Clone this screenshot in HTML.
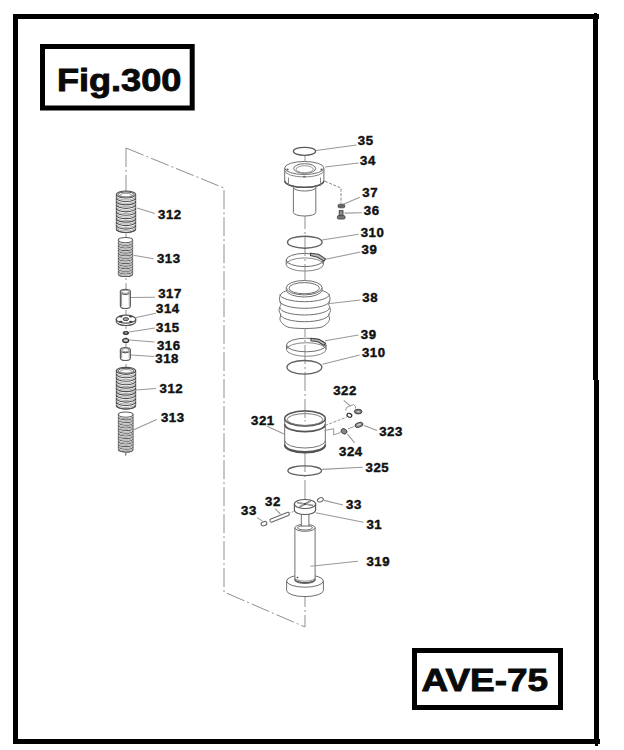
<!DOCTYPE html>
<html><head><meta charset="utf-8"><style>
html,body{margin:0;padding:0;background:#fff;}
body{width:624px;height:750px;position:relative;overflow:hidden;}
svg{position:absolute;left:0;top:0;}
.lbl text{font-family:"Liberation Sans",sans-serif;font-weight:bold;font-size:13.2px;fill:#111;stroke:#111;stroke-width:0.45px;}
.big{font-family:"Liberation Sans",sans-serif;font-weight:bold;fill:#0a0a0a;font-size:32px;stroke:#0a0a0a;stroke-width:0.9px;}
</style></head><body>
<svg width="624" height="750" viewBox="0 0 624 750">
<g fill="#000">
<rect x="13" y="14" width="586" height="5"/>
<rect x="13" y="14" width="5" height="730"/>
<rect x="13" y="739" width="587" height="5"/>
<rect x="593" y="14" width="5" height="366"/>
<rect x="594" y="380" width="5" height="364"/>
<rect x="595" y="744" width="3" height="2"/>
<rect x="594" y="13" width="3" height="1"/>
</g>
<rect x="42.5" y="46.5" width="149.7" height="61.5" fill="none" stroke="#000" stroke-width="5"/>
<rect x="414.5" y="650.5" width="146" height="57" fill="none" stroke="#000" stroke-width="5"/>
<text class="big" x="56.9" y="90.7" textLength="124.5" lengthAdjust="spacingAndGlyphs">Fig.300</text>
<text class="big" x="421.5" y="691" textLength="126.5" lengthAdjust="spacingAndGlyphs">AVE-75</text>
<path d="M126,148 L224,188 L224,592 L305,627" fill="none" stroke="#8f8f8f" stroke-width="1" stroke-dasharray="19 3 2 3"/>
<line x1="126" y1="148" x2="126" y2="455" stroke="#8f8f8f" stroke-width="1" stroke-dasharray="19 3 2 3"/>
<line x1="305" y1="156" x2="305" y2="627" stroke="#8f8f8f" stroke-width="1" stroke-dasharray="19 3 2 3"/>
<path d="M116.4,194.5 L116.4,229.0 A9.6,3.5 0 0 0 135.6,229.0 L135.6,194.5 Z" fill="#fff" stroke="#505050" stroke-width="1.15" />
<ellipse cx="126" cy="194.5" rx="9.6" ry="3.5" fill="#fff" stroke="#505050" stroke-width="1.15"/>
<ellipse cx="126" cy="194.5" rx="7.871999999999999" ry="2.52" fill="#fff" stroke="#505050" stroke-width="1"/>
<ellipse cx="126" cy="195.1" rx="5.76" ry="1.75" fill="none" stroke="#999" stroke-width="1"/>
<path d="M116.4,197.95 A9.6,3.5 0 0 0 135.6,197.95" fill="none" stroke="#505050" stroke-width="1.15" />
<path d="M116.4,196.39749999999998 A9.6,3.5 0 0 0 135.6,196.39749999999998" fill="none" stroke="#a8a8a8" stroke-width="1" />
<path d="M116.4,201.4 A9.6,3.5 0 0 0 135.6,201.4" fill="none" stroke="#505050" stroke-width="1.15" />
<path d="M116.4,199.8475 A9.6,3.5 0 0 0 135.6,199.8475" fill="none" stroke="#a8a8a8" stroke-width="1" />
<path d="M116.4,204.85 A9.6,3.5 0 0 0 135.6,204.85" fill="none" stroke="#505050" stroke-width="1.15" />
<path d="M116.4,203.29749999999999 A9.6,3.5 0 0 0 135.6,203.29749999999999" fill="none" stroke="#a8a8a8" stroke-width="1" />
<path d="M116.4,208.3 A9.6,3.5 0 0 0 135.6,208.3" fill="none" stroke="#505050" stroke-width="1.15" />
<path d="M116.4,206.7475 A9.6,3.5 0 0 0 135.6,206.7475" fill="none" stroke="#a8a8a8" stroke-width="1" />
<path d="M116.4,211.75 A9.6,3.5 0 0 0 135.6,211.75" fill="none" stroke="#505050" stroke-width="1.15" />
<path d="M116.4,210.1975 A9.6,3.5 0 0 0 135.6,210.1975" fill="none" stroke="#a8a8a8" stroke-width="1" />
<path d="M116.4,215.2 A9.6,3.5 0 0 0 135.6,215.2" fill="none" stroke="#505050" stroke-width="1.15" />
<path d="M116.4,213.64749999999998 A9.6,3.5 0 0 0 135.6,213.64749999999998" fill="none" stroke="#a8a8a8" stroke-width="1" />
<path d="M116.4,218.65 A9.6,3.5 0 0 0 135.6,218.65" fill="none" stroke="#505050" stroke-width="1.15" />
<path d="M116.4,217.0975 A9.6,3.5 0 0 0 135.6,217.0975" fill="none" stroke="#a8a8a8" stroke-width="1" />
<path d="M116.4,222.1 A9.6,3.5 0 0 0 135.6,222.1" fill="none" stroke="#505050" stroke-width="1.15" />
<path d="M116.4,220.54749999999999 A9.6,3.5 0 0 0 135.6,220.54749999999999" fill="none" stroke="#a8a8a8" stroke-width="1" />
<path d="M116.4,225.55 A9.6,3.5 0 0 0 135.6,225.55" fill="none" stroke="#505050" stroke-width="1.15" />
<path d="M116.4,223.9975 A9.6,3.5 0 0 0 135.6,223.9975" fill="none" stroke="#a8a8a8" stroke-width="1" />
<path d="M116.4,229.0 A9.6,3.5 0 0 0 135.6,229.0" fill="none" stroke="#505050" stroke-width="1.15" />
<path d="M116.4,227.4475 A9.6,3.5 0 0 0 135.6,227.4475" fill="none" stroke="#a8a8a8" stroke-width="1" />
<path d="M118.4,240.1 L118.4,273.9 A7.1,2.6 0 0 0 132.6,273.9 L132.6,240.1 Z" fill="#fff" stroke="#606060" stroke-width="1.05" />
<ellipse cx="125.5" cy="240.1" rx="7.1" ry="2.6" fill="#fff" stroke="#606060" stroke-width="1.05"/>
<path d="M118.4,242.7 A7.1,2.6 0 0 0 132.6,242.7" fill="none" stroke="#606060" stroke-width="1.05" />
<path d="M118.4,241.53 A7.1,2.6 0 0 0 132.6,241.53" fill="none" stroke="#a8a8a8" stroke-width="1" />
<path d="M118.4,245.29999999999998 A7.1,2.6 0 0 0 132.6,245.29999999999998" fill="none" stroke="#606060" stroke-width="1.05" />
<path d="M118.4,244.13 A7.1,2.6 0 0 0 132.6,244.13" fill="none" stroke="#a8a8a8" stroke-width="1" />
<path d="M118.4,247.89999999999998 A7.1,2.6 0 0 0 132.6,247.89999999999998" fill="none" stroke="#606060" stroke-width="1.05" />
<path d="M118.4,246.73 A7.1,2.6 0 0 0 132.6,246.73" fill="none" stroke="#a8a8a8" stroke-width="1" />
<path d="M118.4,250.5 A7.1,2.6 0 0 0 132.6,250.5" fill="none" stroke="#606060" stroke-width="1.05" />
<path d="M118.4,249.33 A7.1,2.6 0 0 0 132.6,249.33" fill="none" stroke="#a8a8a8" stroke-width="1" />
<path d="M118.4,253.1 A7.1,2.6 0 0 0 132.6,253.1" fill="none" stroke="#606060" stroke-width="1.05" />
<path d="M118.4,251.93 A7.1,2.6 0 0 0 132.6,251.93" fill="none" stroke="#a8a8a8" stroke-width="1" />
<path d="M118.4,255.7 A7.1,2.6 0 0 0 132.6,255.7" fill="none" stroke="#606060" stroke-width="1.05" />
<path d="M118.4,254.53 A7.1,2.6 0 0 0 132.6,254.53" fill="none" stroke="#a8a8a8" stroke-width="1" />
<path d="M118.4,258.3 A7.1,2.6 0 0 0 132.6,258.3" fill="none" stroke="#606060" stroke-width="1.05" />
<path d="M118.4,257.13 A7.1,2.6 0 0 0 132.6,257.13" fill="none" stroke="#a8a8a8" stroke-width="1" />
<path d="M118.4,260.9 A7.1,2.6 0 0 0 132.6,260.9" fill="none" stroke="#606060" stroke-width="1.05" />
<path d="M118.4,259.72999999999996 A7.1,2.6 0 0 0 132.6,259.72999999999996" fill="none" stroke="#a8a8a8" stroke-width="1" />
<path d="M118.4,263.5 A7.1,2.6 0 0 0 132.6,263.5" fill="none" stroke="#606060" stroke-width="1.05" />
<path d="M118.4,262.33 A7.1,2.6 0 0 0 132.6,262.33" fill="none" stroke="#a8a8a8" stroke-width="1" />
<path d="M118.4,266.09999999999997 A7.1,2.6 0 0 0 132.6,266.09999999999997" fill="none" stroke="#606060" stroke-width="1.05" />
<path d="M118.4,264.92999999999995 A7.1,2.6 0 0 0 132.6,264.92999999999995" fill="none" stroke="#a8a8a8" stroke-width="1" />
<path d="M118.4,268.7 A7.1,2.6 0 0 0 132.6,268.7" fill="none" stroke="#606060" stroke-width="1.05" />
<path d="M118.4,267.53 A7.1,2.6 0 0 0 132.6,267.53" fill="none" stroke="#a8a8a8" stroke-width="1" />
<path d="M118.4,271.29999999999995 A7.1,2.6 0 0 0 132.6,271.29999999999995" fill="none" stroke="#606060" stroke-width="1.05" />
<path d="M118.4,270.12999999999994 A7.1,2.6 0 0 0 132.6,270.12999999999994" fill="none" stroke="#a8a8a8" stroke-width="1" />
<path d="M118.4,273.9 A7.1,2.6 0 0 0 132.6,273.9" fill="none" stroke="#606060" stroke-width="1.05" />
<path d="M118.4,272.72999999999996 A7.1,2.6 0 0 0 132.6,272.72999999999996" fill="none" stroke="#a8a8a8" stroke-width="1" />
<path d="M120.4,291.8 L120.4,306.0 A5,2.5 0 0 0 130.4,306.0 L130.4,291.8 Z" fill="#fff" stroke="#606060" stroke-width="1.2" />
<ellipse cx="125.4" cy="291.8" rx="5" ry="2.5" fill="#fff" stroke="#606060" stroke-width="1.2"/>
<line x1="121.6" y1="292.5" x2="121.6" y2="306" stroke="#999" stroke-width="1" />
<line x1="129.2" y1="292.5" x2="129.2" y2="306" stroke="#aaa" stroke-width="1" />
<ellipse cx="125.4" cy="291.8" rx="3.6" ry="1.5" fill="none" stroke="#999" stroke-width="1"/>
<path d="M116.3,319.2 L116.3,321.5 A9.7,4.0 0 0 0 135.7,321.5 L135.7,319.2 Z" fill="#fff" stroke="#555" stroke-width="1.2" />
<ellipse cx="126" cy="319.2" rx="9.7" ry="4.0" fill="#fff" stroke="#555" stroke-width="1.2"/>
<ellipse cx="120.7" cy="316.6" rx="2.0" ry="0.95" fill="#444" stroke="none" stroke-width="1"/>
<ellipse cx="130.9" cy="316.6" rx="2.0" ry="0.95" fill="#444" stroke="none" stroke-width="1"/>
<ellipse cx="120.7" cy="321.6" rx="2.0" ry="0.95" fill="#444" stroke="none" stroke-width="1"/>
<ellipse cx="130.9" cy="321.6" rx="2.0" ry="0.95" fill="#444" stroke="none" stroke-width="1"/>
<ellipse cx="125.8" cy="319.1" rx="2.8" ry="1.5" fill="#aaa" stroke="#444" stroke-width="1"/>
<ellipse cx="125.9" cy="333" rx="2.9" ry="1.7" fill="#444" stroke="#333" stroke-width="0.8"/>
<ellipse cx="125.9" cy="332.8" rx="1.4" ry="0.6" fill="#bbb" stroke="none" stroke-width="1"/>
<ellipse cx="125.7" cy="340.5" rx="3.0" ry="1.9" fill="#ccc" stroke="#333" stroke-width="1.3"/>
<path d="M120.4,350.1 L120.4,358.0 A5,2.5 0 0 0 130.4,358.0 L130.4,350.1 Z" fill="#fff" stroke="#606060" stroke-width="1.2" />
<ellipse cx="125.4" cy="350.1" rx="5" ry="2.5" fill="#fff" stroke="#606060" stroke-width="1.2"/>
<line x1="121.6" y1="350.5" x2="121.6" y2="358" stroke="#999" stroke-width="1" />
<line x1="129.2" y1="350.5" x2="129.2" y2="358" stroke="#aaa" stroke-width="1" />
<ellipse cx="125.4" cy="350.1" rx="3.6" ry="1.5" fill="none" stroke="#999" stroke-width="1"/>
<path d="M116.4,370.8 L116.4,405.5 A9.6,3.5 0 0 0 135.6,405.5 L135.6,370.8 Z" fill="#fff" stroke="#505050" stroke-width="1.15" />
<ellipse cx="126" cy="370.8" rx="9.6" ry="3.5" fill="#fff" stroke="#505050" stroke-width="1.15"/>
<ellipse cx="126" cy="370.8" rx="7.871999999999999" ry="2.52" fill="#fff" stroke="#505050" stroke-width="1"/>
<ellipse cx="126" cy="371.40000000000003" rx="5.76" ry="1.75" fill="none" stroke="#999" stroke-width="1"/>
<path d="M116.4,374.27 A9.6,3.5 0 0 0 135.6,374.27" fill="none" stroke="#505050" stroke-width="1.15" />
<path d="M116.4,372.70849999999996 A9.6,3.5 0 0 0 135.6,372.70849999999996" fill="none" stroke="#a8a8a8" stroke-width="1" />
<path d="M116.4,377.74 A9.6,3.5 0 0 0 135.6,377.74" fill="none" stroke="#505050" stroke-width="1.15" />
<path d="M116.4,376.1785 A9.6,3.5 0 0 0 135.6,376.1785" fill="none" stroke="#a8a8a8" stroke-width="1" />
<path d="M116.4,381.21000000000004 A9.6,3.5 0 0 0 135.6,381.21000000000004" fill="none" stroke="#505050" stroke-width="1.15" />
<path d="M116.4,379.6485 A9.6,3.5 0 0 0 135.6,379.6485" fill="none" stroke="#a8a8a8" stroke-width="1" />
<path d="M116.4,384.68 A9.6,3.5 0 0 0 135.6,384.68" fill="none" stroke="#505050" stroke-width="1.15" />
<path d="M116.4,383.1185 A9.6,3.5 0 0 0 135.6,383.1185" fill="none" stroke="#a8a8a8" stroke-width="1" />
<path d="M116.4,388.15 A9.6,3.5 0 0 0 135.6,388.15" fill="none" stroke="#505050" stroke-width="1.15" />
<path d="M116.4,386.58849999999995 A9.6,3.5 0 0 0 135.6,386.58849999999995" fill="none" stroke="#a8a8a8" stroke-width="1" />
<path d="M116.4,391.62 A9.6,3.5 0 0 0 135.6,391.62" fill="none" stroke="#505050" stroke-width="1.15" />
<path d="M116.4,390.0585 A9.6,3.5 0 0 0 135.6,390.0585" fill="none" stroke="#a8a8a8" stroke-width="1" />
<path d="M116.4,395.09000000000003 A9.6,3.5 0 0 0 135.6,395.09000000000003" fill="none" stroke="#505050" stroke-width="1.15" />
<path d="M116.4,393.5285 A9.6,3.5 0 0 0 135.6,393.5285" fill="none" stroke="#a8a8a8" stroke-width="1" />
<path d="M116.4,398.56 A9.6,3.5 0 0 0 135.6,398.56" fill="none" stroke="#505050" stroke-width="1.15" />
<path d="M116.4,396.9985 A9.6,3.5 0 0 0 135.6,396.9985" fill="none" stroke="#a8a8a8" stroke-width="1" />
<path d="M116.4,402.03 A9.6,3.5 0 0 0 135.6,402.03" fill="none" stroke="#505050" stroke-width="1.15" />
<path d="M116.4,400.46849999999995 A9.6,3.5 0 0 0 135.6,400.46849999999995" fill="none" stroke="#a8a8a8" stroke-width="1" />
<path d="M116.4,405.5 A9.6,3.5 0 0 0 135.6,405.5" fill="none" stroke="#505050" stroke-width="1.15" />
<path d="M116.4,403.9385 A9.6,3.5 0 0 0 135.6,403.9385" fill="none" stroke="#a8a8a8" stroke-width="1" />
<path d="M118.4,414.6 L118.4,449.4 A7.3,2.6 0 0 0 133.0,449.4 L133.0,414.6 Z" fill="#fff" stroke="#606060" stroke-width="1.05" />
<ellipse cx="125.7" cy="414.6" rx="7.3" ry="2.6" fill="#fff" stroke="#606060" stroke-width="1.05"/>
<path d="M118.4,417.2769230769231 A7.3,2.6 0 0 0 133.0,417.2769230769231" fill="none" stroke="#606060" stroke-width="1.05" />
<path d="M118.4,416.0723076923077 A7.3,2.6 0 0 0 133.0,416.0723076923077" fill="none" stroke="#a8a8a8" stroke-width="1" />
<path d="M118.4,419.95384615384614 A7.3,2.6 0 0 0 133.0,419.95384615384614" fill="none" stroke="#606060" stroke-width="1.05" />
<path d="M118.4,418.74923076923073 A7.3,2.6 0 0 0 133.0,418.74923076923073" fill="none" stroke="#a8a8a8" stroke-width="1" />
<path d="M118.4,422.63076923076926 A7.3,2.6 0 0 0 133.0,422.63076923076926" fill="none" stroke="#606060" stroke-width="1.05" />
<path d="M118.4,421.42615384615385 A7.3,2.6 0 0 0 133.0,421.42615384615385" fill="none" stroke="#a8a8a8" stroke-width="1" />
<path d="M118.4,425.3076923076923 A7.3,2.6 0 0 0 133.0,425.3076923076923" fill="none" stroke="#606060" stroke-width="1.05" />
<path d="M118.4,424.1030769230769 A7.3,2.6 0 0 0 133.0,424.1030769230769" fill="none" stroke="#a8a8a8" stroke-width="1" />
<path d="M118.4,427.9846153846154 A7.3,2.6 0 0 0 133.0,427.9846153846154" fill="none" stroke="#606060" stroke-width="1.05" />
<path d="M118.4,426.78 A7.3,2.6 0 0 0 133.0,426.78" fill="none" stroke="#a8a8a8" stroke-width="1" />
<path d="M118.4,430.66153846153844 A7.3,2.6 0 0 0 133.0,430.66153846153844" fill="none" stroke="#606060" stroke-width="1.05" />
<path d="M118.4,429.45692307692303 A7.3,2.6 0 0 0 133.0,429.45692307692303" fill="none" stroke="#a8a8a8" stroke-width="1" />
<path d="M118.4,433.33846153846156 A7.3,2.6 0 0 0 133.0,433.33846153846156" fill="none" stroke="#606060" stroke-width="1.05" />
<path d="M118.4,432.13384615384615 A7.3,2.6 0 0 0 133.0,432.13384615384615" fill="none" stroke="#a8a8a8" stroke-width="1" />
<path d="M118.4,436.0153846153846 A7.3,2.6 0 0 0 133.0,436.0153846153846" fill="none" stroke="#606060" stroke-width="1.05" />
<path d="M118.4,434.8107692307692 A7.3,2.6 0 0 0 133.0,434.8107692307692" fill="none" stroke="#a8a8a8" stroke-width="1" />
<path d="M118.4,438.6923076923077 A7.3,2.6 0 0 0 133.0,438.6923076923077" fill="none" stroke="#606060" stroke-width="1.05" />
<path d="M118.4,437.48769230769227 A7.3,2.6 0 0 0 133.0,437.48769230769227" fill="none" stroke="#a8a8a8" stroke-width="1" />
<path d="M118.4,441.36923076923074 A7.3,2.6 0 0 0 133.0,441.36923076923074" fill="none" stroke="#606060" stroke-width="1.05" />
<path d="M118.4,440.16461538461533 A7.3,2.6 0 0 0 133.0,440.16461538461533" fill="none" stroke="#a8a8a8" stroke-width="1" />
<path d="M118.4,444.04615384615386 A7.3,2.6 0 0 0 133.0,444.04615384615386" fill="none" stroke="#606060" stroke-width="1.05" />
<path d="M118.4,442.84153846153845 A7.3,2.6 0 0 0 133.0,442.84153846153845" fill="none" stroke="#a8a8a8" stroke-width="1" />
<path d="M118.4,446.7230769230769 A7.3,2.6 0 0 0 133.0,446.7230769230769" fill="none" stroke="#606060" stroke-width="1.05" />
<path d="M118.4,445.5184615384615 A7.3,2.6 0 0 0 133.0,445.5184615384615" fill="none" stroke="#a8a8a8" stroke-width="1" />
<path d="M118.4,449.4 A7.3,2.6 0 0 0 133.0,449.4" fill="none" stroke="#606060" stroke-width="1.05" />
<path d="M118.4,448.19538461538457 A7.3,2.6 0 0 0 133.0,448.19538461538457" fill="none" stroke="#a8a8a8" stroke-width="1" />
<line x1="125.5" y1="453" x2="125.5" y2="456" stroke="#8f8f8f" stroke-width="1" />
<ellipse cx="304.5" cy="151.3" rx="11.1" ry="4.0" fill="none" stroke="#5a5a5a" stroke-width="1.3"/>
<path d="M293.40000000000003,187.5 L293.40000000000003,212.5 A11.2,3.5 0 0 0 315.8,212.5 L315.8,187.5 Z" fill="#fff" stroke="#707070" stroke-width="1" />
<ellipse cx="304.6" cy="187.5" rx="11.2" ry="3.5" fill="#fff" stroke="#707070" stroke-width="1"/>
<path d="M284.7,168 L284.7,181 A19.6,6.5 0 0 0 323.9,181 L323.9,168" fill="#fff" stroke="#707070" stroke-width="1" />
<path d="M284.7,170.5 A19.6,6.5 0 0 0 323.90000000000003,170.5" fill="none" stroke="#888" stroke-width="1" />
<path d="M284.7,180.8 A19.6,6.5 0 0 0 323.90000000000003,180.8" fill="none" stroke="#555" stroke-width="1.6" />
<ellipse cx="304.3" cy="168" rx="19.6" ry="6.5" fill="#fff" stroke="#707070" stroke-width="1"/>
<ellipse cx="304.7" cy="168.5" rx="11" ry="4.8" fill="#fff" stroke="#707070" stroke-width="1"/>
<ellipse cx="304.7" cy="169.2" rx="8.6" ry="3.5" fill="none" stroke="#999" stroke-width="1"/>
<line x1="288.5" y1="177.5" x2="288.5" y2="186" stroke="#888" stroke-width="1" />
<line x1="320.5" y1="177.5" x2="320.5" y2="186" stroke="#888" stroke-width="1" />
<ellipse cx="287.5" cy="169.5" rx="1.2" ry="0.9" fill="#666" stroke="none" stroke-width="1"/>
<ellipse cx="321.5" cy="169.5" rx="1.2" ry="0.9" fill="#666" stroke="none" stroke-width="1"/>
<ellipse cx="304.3" cy="176.6" rx="1.5" ry="0.9" fill="#666" stroke="none" stroke-width="1"/>
<ellipse cx="304.8" cy="242.2" rx="17.3" ry="6.0" fill="none" stroke="#606060" stroke-width="1.35"/>
<ellipse cx="304.8" cy="264.5" rx="18.6" ry="6.6" fill="none" stroke="#888" stroke-width="1"/>
<ellipse cx="304.8" cy="260" rx="18.6" ry="6.6" fill="none" stroke="#707070" stroke-width="1"/>
<line x1="286.2" y1="260" x2="286.2" y2="264.5" stroke="#707070" stroke-width="1" />
<line x1="323.4" y1="260" x2="323.4" y2="264.5" stroke="#707070" stroke-width="1" />
<path d="M310.5,253.2 L318.5,254.3 L325.5,258.8 L324,261 L317.5,257.2 L310.5,255.6 Z" fill="#bbb" stroke="#444" stroke-width="1.1" />
<path d="M282,293 C286,290 294,288.5 304.7,288.5 C315,288.5 323,290 327.5,293 C330.5,295.5 330.5,300 329,303 C328.5,304 328.5,305 329.5,306.5 C331,309.5 330.5,312 329,314 C328.5,315 329,316.5 329.5,318 C330,321 327,324.5 322,327 C316,329 293,329 287.5,327 C282.5,324.5 279.5,321 280,318 C280.5,316.5 281,315 280.5,314 C279,312 278.5,309.5 280,306.5 C281,305 281,304 280.5,303 C279,300 279,295.5 282,293 Z" fill="#fff" stroke="#707070" stroke-width="1" />
<path d="M279.9,294.2 A24.8,7.5 0 0 0 329.5,294.2" fill="none" stroke="#707070" stroke-width="1" />
<path d="M279.8,300.8 A24.9,7.5 0 0 0 329.59999999999997,300.8" fill="none" stroke="#707070" stroke-width="1" />
<path d="M279.9,307.5 A24.8,7.5 0 0 0 329.5,307.5" fill="none" stroke="#707070" stroke-width="1" />
<path d="M280.5,314.2 A24.2,7.5 0 0 0 328.9,314.2" fill="none" stroke="#707070" stroke-width="1" />
<path d="M286.3,287.7 L286.3,289.8 A17.9,7.2 0 0 0 322.09999999999997,289.8 L322.09999999999997,287.7 Z" fill="#fff" stroke="#707070" stroke-width="1" />
<ellipse cx="304.2" cy="287.7" rx="17.9" ry="7.2" fill="#fff" stroke="#707070" stroke-width="1"/>
<ellipse cx="304.2" cy="288.2" rx="15.2" ry="5.6" fill="none" stroke="#707070" stroke-width="1"/>
<ellipse cx="306.3" cy="349.5" rx="19.8" ry="6.8" fill="none" stroke="#888" stroke-width="1"/>
<ellipse cx="306.3" cy="345" rx="19.8" ry="6.8" fill="none" stroke="#707070" stroke-width="1"/>
<line x1="286.5" y1="345" x2="286.5" y2="349.5" stroke="#707070" stroke-width="1" />
<line x1="326.1" y1="345" x2="326.1" y2="349.5" stroke="#707070" stroke-width="1" />
<path d="M311,338.3 L319,339.4 L325.5,343.3 L324,345.5 L318,341.8 L311,340.7 Z" fill="#bbb" stroke="#444" stroke-width="1.1" />
<ellipse cx="304.4" cy="367.3" rx="17.4" ry="6.8" fill="none" stroke="#606060" stroke-width="1.35"/>
<path d="M284.7,418.5 L284.7,445.2 A20.3,7.5 0 0 0 325.3,445.2 L325.3,418.5 Z" fill="#fff" stroke="#707070" stroke-width="1" />
<ellipse cx="305" cy="418.5" rx="20.3" ry="7.5" fill="#fff" stroke="#707070" stroke-width="1"/>
<ellipse cx="305" cy="418.5" rx="20.3" ry="7.5" fill="#fff" stroke="#555" stroke-width="1.5"/>
<ellipse cx="305" cy="419.5" rx="17.8" ry="5.9" fill="none" stroke="#777" stroke-width="1"/>
<line x1="305" y1="412" x2="305" y2="423" stroke="#8f8f8f" stroke-width="1" stroke-dasharray="6 2 1.5 2"/>
<path d="M284.7,424.2 A20.3,7.5 0 0 0 325.3,424.2" fill="none" stroke="#555" stroke-width="1.8" />
<path d="M284.7,440.5 A20.3,7.5 0 0 0 325.3,440.5" fill="none" stroke="#777" stroke-width="1" />
<path d="M284.7,444.5 A20.3,7.5 0 0 0 325.3,444.5" fill="none" stroke="#555" stroke-width="1.8" />
<path d="M284.7,445.2 A20.3,7.5 0 0 0 325.3,445.2" fill="none" stroke="#555" stroke-width="1.5" />
<ellipse cx="349.4" cy="415.3" rx="2.5" ry="1.8" fill="#fff" stroke="#333" stroke-width="1.2" transform="rotate(25 349.4 415.3)"/>
<ellipse cx="358.2" cy="411.6" rx="3.8" ry="2.4" fill="#777" stroke="#333" stroke-width="0.8"/>
<ellipse cx="358.4" cy="411.8" rx="2" ry="0.8" fill="#ccc"/>
<ellipse cx="359" cy="424.9" rx="4.2" ry="2.3" fill="#888" stroke="#333" stroke-width="0.8" transform="rotate(-18 359 424.9)"/>
<ellipse cx="359" cy="424.6" rx="2.2" ry="0.9" fill="#ccc" transform="rotate(-18 359 424.6)"/>
<ellipse cx="344" cy="431.3" rx="3.1" ry="2.5" fill="#888" stroke="#333" stroke-width="0.8" transform="rotate(35 344 431.3)"/>
<path d="M325,425.5 L347,417" fill="none" stroke="#999" stroke-width="1" stroke-dasharray="3 1.5"/>
<path d="M324.3,430.6 L333.7,428.7 L333.7,434.9 L340.5,432.5" fill="none" stroke="#999" stroke-width="1" />
<path d="M348,429 L354,426.5" fill="none" stroke="#999" stroke-width="1" />
<path d="M345.6,410.5 L346.5,407.5 L349.4,406.3 L353.5,404.5 L355.5,406.5 L355.5,408.5" fill="none" stroke="#999" stroke-width="1" />
<ellipse cx="304.7" cy="470.7" rx="16.8" ry="4.9" fill="none" stroke="#606060" stroke-width="1.35"/>
<path d="M286.6,581.0 L286.6,590.4 A18.4,6.2 0 0 0 323.4,590.4 L323.4,581.0 Z" fill="#fff" stroke="#707070" stroke-width="1" />
<ellipse cx="305" cy="581.0" rx="18.4" ry="6.2" fill="#fff" stroke="#707070" stroke-width="1"/>
<path d="M294.9,527.8 L294.9,580.0 A10.1,3.5 0 0 0 315.1,580.0 L315.1,527.8 Z" fill="#fff" stroke="#707070" stroke-width="1" />
<ellipse cx="305" cy="527.8" rx="10.1" ry="3.5" fill="#fff" stroke="#707070" stroke-width="1"/>
<path d="M294.9,579.2 A10.1,3.5 0 0 0 315.1,579.2" fill="none" stroke="#555" stroke-width="1.3" />
<path d="M294.9,577.6 A10.1,3.5 0 0 0 315.1,577.6" fill="none" stroke="#999" stroke-width="1" />
<ellipse cx="297.5" cy="577.5" rx="0.8" ry="0.8" fill="#333" stroke="none" stroke-width="1"/>
<ellipse cx="305" cy="527.8" rx="7.5" ry="2.2" fill="#fff" stroke="#707070" stroke-width="1"/>
<rect x="301.3" y="510" width="7.6" height="16" fill="#fff" stroke="#707070"/>
<path d="M294.4,504.0 L294.4,510.0 A10.6,4.5 0 0 0 315.6,510.0 L315.6,504.0 Z" fill="#fff" stroke="#5a5a5a" stroke-width="1.15" />
<ellipse cx="305" cy="504.0" rx="10.6" ry="4.5" fill="#fff" stroke="#5a5a5a" stroke-width="1.15"/>
<line x1="297" y1="502.5" x2="313" y2="505.5" stroke="#666" stroke-width="1.6" />
<line x1="299.5" y1="507" x2="310.5" y2="501" stroke="#666" stroke-width="1.6" />
<line x1="297.6" y1="502.6" x2="312.4" y2="505.4" stroke="#eee" stroke-width="0.5" />
<line x1="300" y1="506.8" x2="310" y2="501.2" stroke="#eee" stroke-width="0.5" />
<ellipse cx="305" cy="504" rx="1.3" ry="1" fill="#444" stroke="none" stroke-width="1"/>
<path d="M271.5,520.5 L287.8,514" fill="none" stroke="#666" stroke-width="4.2" stroke-linecap="round"/>
<path d="M271.5,520.5 L287.8,514" fill="none" stroke="#fff" stroke-width="2.2" stroke-linecap="round"/>
<path d="M288.5,513.5 L295,511" fill="none" stroke="#999" stroke-width="1" stroke-dasharray="2 1.5"/>
<ellipse cx="264" cy="523.6" rx="3" ry="2" fill="#fff" stroke="#666" stroke-width="1.1" transform="rotate(-20 264 523.6)"/>
<ellipse cx="320.4" cy="499.8" rx="3" ry="2" fill="#fff" stroke="#666" stroke-width="1.1" transform="rotate(-20 320.4 499.8)"/>
<line x1="137" y1="208" x2="154.8" y2="213.5" stroke="#999" stroke-width="1.1" />
<line x1="133.5" y1="255.3" x2="153.5" y2="258.8" stroke="#999" stroke-width="1.1" />
<line x1="131" y1="297.5" x2="155" y2="297.3" stroke="#999" stroke-width="1.1" />
<line x1="135" y1="317.8" x2="155.9" y2="313.3" stroke="#999" stroke-width="1.1" />
<line x1="129" y1="332" x2="155" y2="328" stroke="#999" stroke-width="1.1" />
<line x1="129.5" y1="340" x2="154.3" y2="342" stroke="#999" stroke-width="1.1" />
<line x1="131" y1="355" x2="154.3" y2="356.5" stroke="#999" stroke-width="1.1" />
<line x1="136" y1="390" x2="156" y2="388.5" stroke="#999" stroke-width="1.1" />
<line x1="132.2" y1="430.5" x2="156.7" y2="419.6" stroke="#999" stroke-width="1.1" />
<line x1="316" y1="150.5" x2="356.5" y2="145" stroke="#999" stroke-width="1.1" />
<line x1="325" y1="167" x2="358.7" y2="163" stroke="#999" stroke-width="1.1" />
<line x1="344" y1="204" x2="359.8" y2="197.2" stroke="#999" stroke-width="1.1" />
<line x1="344.5" y1="213.1" x2="362" y2="212.8" stroke="#999" stroke-width="1.1" />
<line x1="322" y1="240" x2="358.7" y2="234.3" stroke="#999" stroke-width="1.1" />
<line x1="325.8" y1="259.2" x2="360.4" y2="252" stroke="#999" stroke-width="1.1" />
<line x1="327.7" y1="303.8" x2="360.4" y2="300" stroke="#999" stroke-width="1.1" />
<line x1="325.2" y1="340.8" x2="358.5" y2="335" stroke="#999" stroke-width="1.1" />
<line x1="322.5" y1="364.2" x2="359.6" y2="355" stroke="#999" stroke-width="1.1" />
<line x1="343.8" y1="400.3" x2="350.3" y2="406" stroke="#999" stroke-width="1.1" />
<line x1="267.2" y1="426.3" x2="285" y2="434.5" stroke="#999" stroke-width="1.1" />
<line x1="364" y1="425.5" x2="377" y2="430.6" stroke="#999" stroke-width="1.1" />
<line x1="347.4" y1="434.2" x2="354.6" y2="442.8" stroke="#999" stroke-width="1.1" />
<line x1="321.7" y1="469.4" x2="362.6" y2="467.2" stroke="#999" stroke-width="1.1" />
<line x1="257.2" y1="517.6" x2="262.2" y2="520.9" stroke="#999" stroke-width="1.1" />
<line x1="275" y1="508.6" x2="280.4" y2="514" stroke="#999" stroke-width="1.1" />
<line x1="324" y1="500.4" x2="343" y2="505" stroke="#999" stroke-width="1.1" />
<line x1="315.8" y1="512.7" x2="363.5" y2="522.2" stroke="#999" stroke-width="1.1" />
<line x1="310.5" y1="566.2" x2="358" y2="561.2" stroke="#999" stroke-width="1.1" />
<path d="M325,181.3 L341,188 L341,203" fill="none" stroke="#888" stroke-width="1" stroke-dasharray="3 1.5"/>
<rect x="338" y="204.2" width="6.8" height="3.6" rx="1.5" fill="#666" stroke="#444" stroke-width="0.8"/>
<rect x="339.2" y="210.6" width="3.8" height="5.6" fill="#888" stroke="#444" stroke-width="0.9"/>
<rect x="337.4" y="215.6" width="7.6" height="3.4" rx="1.2" fill="#777" stroke="#444" stroke-width="0.9"/>
<g class="lbl">
<text x="158.1" y="218.8" textLength="23.1" lengthAdjust="spacing">312</text>
<text x="156.9" y="262.9" textLength="23.1" lengthAdjust="spacing">313</text>
<text x="158.2" y="297.6" textLength="23.1" lengthAdjust="spacing">317</text>
<text x="156.1" y="312.5" textLength="23.1" lengthAdjust="spacing">314</text>
<text x="156.1" y="332.4" textLength="23.1" lengthAdjust="spacing">315</text>
<text x="156.9" y="349.7" textLength="23.1" lengthAdjust="spacing">316</text>
<text x="155.3" y="362.6" textLength="23.1" lengthAdjust="spacing">318</text>
<text x="159.6" y="393.0" textLength="23.1" lengthAdjust="spacing">312</text>
<text x="160.9" y="421.7" textLength="23.1" lengthAdjust="spacing">313</text>
<text x="357.8" y="145.2" textLength="15.3" lengthAdjust="spacing">35</text>
<text x="360.0" y="165.0" textLength="15.3" lengthAdjust="spacing">34</text>
<text x="362.2" y="196.8" textLength="15.3" lengthAdjust="spacing">37</text>
<text x="363.8" y="214.7" textLength="15.3" lengthAdjust="spacing">36</text>
<text x="360.7" y="237.2" textLength="23.1" lengthAdjust="spacing">310</text>
<text x="361.5" y="253.8" textLength="15.3" lengthAdjust="spacing">39</text>
<text x="362.2" y="302.0" textLength="15.3" lengthAdjust="spacing">38</text>
<text x="360.8" y="338.8" textLength="15.3" lengthAdjust="spacing">39</text>
<text x="361.9" y="356.9" textLength="23.1" lengthAdjust="spacing">310</text>
<text x="333.2" y="394.5" textLength="23.1" lengthAdjust="spacing">322</text>
<text x="251.1" y="425.0" textLength="23.1" lengthAdjust="spacing">321</text>
<text x="379.2" y="435.9" textLength="23.1" lengthAdjust="spacing">323</text>
<text x="339.1" y="455.6" textLength="23.1" lengthAdjust="spacing">324</text>
<text x="365.5" y="471.8" textLength="23.1" lengthAdjust="spacing">325</text>
<text x="241.1" y="514.6" textLength="15.3" lengthAdjust="spacing">33</text>
<text x="265.1" y="505.9" textLength="15.3" lengthAdjust="spacing">32</text>
<text x="346.0" y="508.6" textLength="15.3" lengthAdjust="spacing">33</text>
<text x="366.4" y="528.5" textLength="15.3" lengthAdjust="spacing">31</text>
<text x="366.4" y="565.8" textLength="23.1" lengthAdjust="spacing">319</text>
</g>
</svg>
</body></html>
